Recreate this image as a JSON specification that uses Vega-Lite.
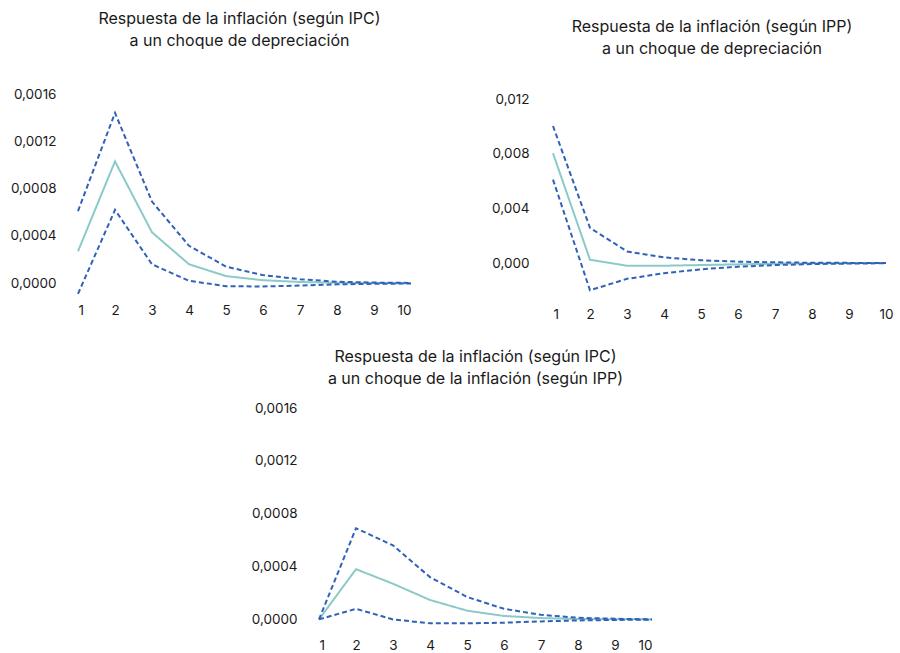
{
  "$schema": "https://vega.github.io/schema/vega-lite/v6.json",
  "padding": {"left": 10, "top": 11, "right": 0, "bottom": 0},
  "config": {
    "view": {"stroke": null},
    "font": "Inter",
    "title": {"font": "Inter", "fontSize": 16, "fontWeight": "normal", "color": "#1a1a1a", "lineHeight": 22, "anchor": "middle", "frame": "group", "offset": 38},
    "axis": {"labelFont": "Inter", "labelFontSize": 13.5, "labelColor": "#1a1a1a", "domain": false, "ticks": false, "grid": false, "title": null},
    "line": {"strokeWidth": 2, "clip": false}
  },
  "datasets": {
    "ipc_dep": [
      {"t": 1, "s": "mid", "v": 0.00027}, {"t": 2, "s": "mid", "v": 0.00103}, {"t": 3, "s": "mid", "v": 0.00043}, {"t": 4, "s": "mid", "v": 0.00016}, {"t": 5, "s": "mid", "v": 0.00006},
      {"t": 6, "s": "mid", "v": 0.000025}, {"t": 7, "s": "mid", "v": 0.00001}, {"t": 8, "s": "mid", "v": 0.000003}, {"t": 9, "s": "mid", "v": 0.000001}, {"t": 10, "s": "mid", "v": 0.0},
      {"t": 1, "s": "up", "v": 0.00061}, {"t": 2, "s": "up", "v": 0.00144}, {"t": 3, "s": "up", "v": 0.00069}, {"t": 4, "s": "up", "v": 0.000316}, {"t": 5, "s": "up", "v": 0.00014},
      {"t": 6, "s": "up", "v": 0.000068}, {"t": 7, "s": "up", "v": 0.000034}, {"t": 8, "s": "up", "v": 0.000012}, {"t": 9, "s": "up", "v": 0.000005}, {"t": 10, "s": "up", "v": 0.000002},
      {"t": 1, "s": "lo", "v": -0.00009}, {"t": 2, "s": "lo", "v": 0.00062}, {"t": 3, "s": "lo", "v": 0.00016}, {"t": 4, "s": "lo", "v": 0.00002}, {"t": 5, "s": "lo", "v": -0.000025},
      {"t": 6, "s": "lo", "v": -0.000028}, {"t": 7, "s": "lo", "v": -0.00002}, {"t": 8, "s": "lo", "v": -0.00001}, {"t": 9, "s": "lo", "v": -0.000005}, {"t": 10, "s": "lo", "v": -0.000003}
    ],
    "ipp_dep": [
      {"t": 1, "s": "mid", "v": 0.00805}, {"t": 2, "s": "mid", "v": 0.00024}, {"t": 3, "s": "mid", "v": -0.0002}, {"t": 4, "s": "mid", "v": -0.0002}, {"t": 5, "s": "mid", "v": -0.00015},
      {"t": 6, "s": "mid", "v": -0.0001}, {"t": 7, "s": "mid", "v": -0.00005}, {"t": 8, "s": "mid", "v": -0.00002}, {"t": 9, "s": "mid", "v": -0.00001}, {"t": 10, "s": "mid", "v": 0.0},
      {"t": 1, "s": "up", "v": 0.01005}, {"t": 2, "s": "up", "v": 0.00258}, {"t": 3, "s": "up", "v": 0.00085}, {"t": 4, "s": "up", "v": 0.00041}, {"t": 5, "s": "up", "v": 0.0002},
      {"t": 6, "s": "up", "v": 0.0001}, {"t": 7, "s": "up", "v": 0.00005}, {"t": 8, "s": "up", "v": 0.00002}, {"t": 9, "s": "up", "v": 0.00001}, {"t": 10, "s": "up", "v": 0.0},
      {"t": 1, "s": "lo", "v": 0.00612}, {"t": 2, "s": "lo", "v": -0.002}, {"t": 3, "s": "lo", "v": -0.00116}, {"t": 4, "s": "lo", "v": -0.00075}, {"t": 5, "s": "lo", "v": -0.00046},
      {"t": 6, "s": "lo", "v": -0.00027}, {"t": 7, "s": "lo", "v": -0.00015}, {"t": 8, "s": "lo", "v": -0.00008}, {"t": 9, "s": "lo", "v": -0.00004}, {"t": 10, "s": "lo", "v": -0.00002}
    ],
    "ipc_ipp": [
      {"t": 1, "s": "mid", "v": 0.0}, {"t": 2, "s": "mid", "v": 0.00038}, {"t": 3, "s": "mid", "v": 0.00027}, {"t": 4, "s": "mid", "v": 0.000147}, {"t": 5, "s": "mid", "v": 0.000066},
      {"t": 6, "s": "mid", "v": 0.000026}, {"t": 7, "s": "mid", "v": 0.00001}, {"t": 8, "s": "mid", "v": 0.000003}, {"t": 9, "s": "mid", "v": 0.000001}, {"t": 10, "s": "mid", "v": 0.0},
      {"t": 1, "s": "up", "v": 0.0}, {"t": 2, "s": "up", "v": 0.00069}, {"t": 3, "s": "up", "v": 0.00056}, {"t": 4, "s": "up", "v": 0.00032}, {"t": 5, "s": "up", "v": 0.00017},
      {"t": 6, "s": "up", "v": 0.00008}, {"t": 7, "s": "up", "v": 0.000035}, {"t": 8, "s": "up", "v": 0.000012}, {"t": 9, "s": "up", "v": 0.000005}, {"t": 10, "s": "up", "v": 0.0},
      {"t": 1, "s": "lo", "v": 0.0}, {"t": 2, "s": "lo", "v": 0.00008}, {"t": 3, "s": "lo", "v": 0.0}, {"t": 4, "s": "lo", "v": -0.00003}, {"t": 5, "s": "lo", "v": -0.00003},
      {"t": 6, "s": "lo", "v": -0.000025}, {"t": 7, "s": "lo", "v": -0.000015}, {"t": 8, "s": "lo", "v": -0.000008}, {"t": 9, "s": "lo", "v": -0.000004}, {"t": 10, "s": "lo", "v": -0.000002}
    ]
  },
  "vconcat": [
    {
      "hconcat": [
        {
          "title": {"text": ["Respuesta de la inflación (según IPC)", "a un choque de depreciación"], "dx": -5},
          "width": 333, "height": 201,
          "data": {"name": "ipc_dep"},
          "mark": {"type": "line"},
          "encoding": {
            "x": {"field": "t", "type": "quantitative", "scale": {"domain": [1, 10], "nice": false, "zero": false}, "axis": {"values": [1,2,3,4,5,6,7,8,9,10], "format": "d", "labelPadding": 8}},
            "y": {"field": "v", "type": "quantitative", "scale": {"domain": [-0.0001, 0.0016], "nice": false, "zero": false}, "axis": {"values": [0, 0.0004, 0.0008, 0.0012, 0.0016], "labelPadding": 22, "labelExpr": "replace(format(datum.value, '.4f'), '.', ',')"}},
            "color": {"field": "s", "type": "nominal", "scale": {"domain": ["mid", "up", "lo"], "range": ["#8cc9c9", "#2f62b8", "#2f62b8"]}, "legend": null},
            "strokeDash": {"field": "s", "type": "nominal", "scale": {"domain": ["mid", "up", "lo"], "range": [[1, 0], [5, 3], [5, 3]]}, "legend": null}
          }
        },
        {
          "title": {"text": ["Respuesta de la inflación (según IPP)", "a un choque de depreciación"], "dx": -13, "dy": 3},
          "width": 344, "height": 199,
          "data": {"name": "ipp_dep"},
          "mark": {"type": "line"},
          "encoding": {
            "x": {"field": "t", "type": "quantitative", "scale": {"domain": [1, 10.297], "nice": false, "zero": false}, "axis": {"values": [1,2,3,4,5,6,7,8,9,10], "format": "d", "labelPadding": 14}},
            "y": {"field": "v", "type": "quantitative", "scale": {"domain": [-0.0022, 0.0124], "nice": false, "zero": false}, "axis": {"values": [0, 0.004, 0.008, 0.012], "labelPadding": 24, "labelExpr": "replace(format(datum.value, '.3f'), '.', ',')"}},
            "color": {"field": "s", "type": "nominal", "scale": {"domain": ["mid", "up", "lo"], "range": ["#8cc9c9", "#2f62b8", "#2f62b8"]}, "legend": null},
            "strokeDash": {"field": "s", "type": "nominal", "scale": {"domain": ["mid", "up", "lo"], "range": [[1, 0], [5, 3], [5, 3]]}, "legend": null}
          }
        }
      ],
      "spacing": 76
    },
    {
      "title": {"text": ["Respuesta de la inflación (según IPC)", "a un choque de la inflación (según IPP)"], "dx": -10, "offset": 14},
      "width": 333, "height": 218,
      "data": {"name": "ipc_ipp"},
      "mark": {"type": "line"},
      "encoding": {
        "x": {"field": "t", "type": "quantitative", "scale": {"domain": [1, 10], "nice": false, "zero": false}, "axis": {"values": [1,2,3,4,5,6,7,8,9,10], "format": "d", "labelPadding": 12}},
        "y": {"field": "v", "type": "quantitative", "scale": {"domain": [-0.00005, 0.0016], "nice": false, "zero": false}, "axis": {"values": [0, 0.0004, 0.0008, 0.0012, 0.0016], "labelPadding": 22, "labelExpr": "replace(format(datum.value, '.4f'), '.', ',')"}},
        "color": {"field": "s", "type": "nominal", "scale": {"domain": ["mid", "up", "lo"], "range": ["#8cc9c9", "#2f62b8", "#2f62b8"]}, "legend": null},
        "strokeDash": {"field": "s", "type": "nominal", "scale": {"domain": ["mid", "up", "lo"], "range": [[1, 0], [5, 3], [5, 3]]}, "legend": null}
      }
    }
  ],
  "spacing": 28,
  "center": true,
  "resolve": {"scale": {"color": "independent", "strokeDash": "independent"}}
}
